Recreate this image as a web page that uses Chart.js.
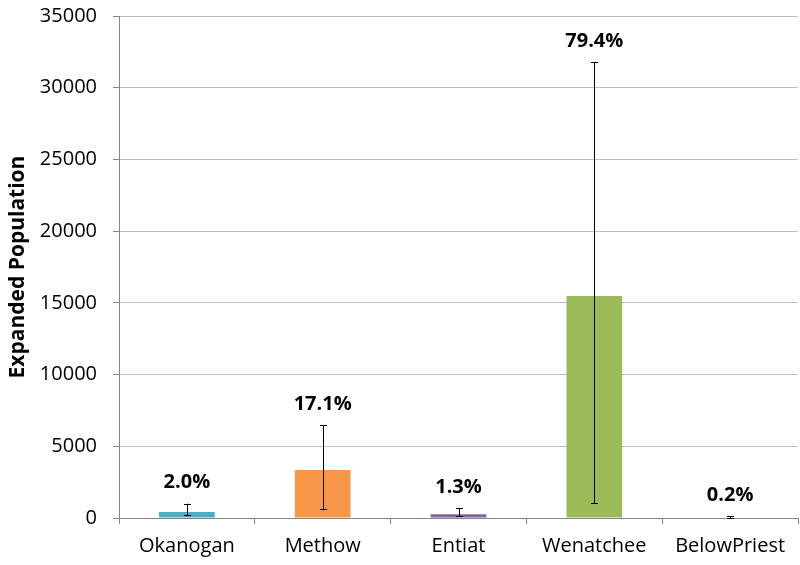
<!DOCTYPE html>
<html>
<head>
<meta charset="utf-8">
<script src="https://cdn.jsdelivr.net/npm/chart.js@4"></script>
<style>
	html, body { margin: 0; padding: 0; background: #fff; }
	canvas { display: block; }
</style>
</head>
<body>
<canvas id="population-chart" width="800" height="565"></canvas>
<script>
const basins = ['Okanogan', 'Methow', 'Entiat', 'Wenatchee', 'BelowPriest'];
const expanded = [420, 3350, 270, 15480, 40];
const lowerBound = [200, 630, 140, 1040, 10];
const upperBound = [1000, 6480, 700, 31800, 110];
const shares = ['2.0%', '17.1%', '1.3%', '79.4%', '0.2%'];
const barColors = ['#4BACC6', '#F79646', '#8064A2', '#9BBB59', '#C0504D'];
const yTicks = [0, 5000, 10000, 15000, 20000, 25000, 30000, 35000];

const fontFamily = '"Open Sans", "Noto Sans", sans-serif';

// whiskers + percent labels on top of each bar
const errorBars = {
	id: 'errorBars',
	afterDatasetsDraw(chart) {
		const ctx = chart.ctx;
		const y = chart.scales.y;
		const meta = chart.getDatasetMeta(0);
		ctx.save();
		ctx.strokeStyle = '#000';
		ctx.lineWidth = 1;
		meta.data.forEach((bar, i) => {
			const x = Math.round(bar.x) + 0.5;
			const top = y.getPixelForValue(upperBound[i]);
			const bottom = y.getPixelForValue(lowerBound[i]);
			ctx.beginPath();
			ctx.moveTo(x, top);
			ctx.lineTo(x, bottom);
			ctx.moveTo(x - 3.5, Math.round(top) + 0.5);
			ctx.lineTo(x + 3.5, Math.round(top) + 0.5);
			ctx.moveTo(x - 3.5, Math.round(bottom) + 0.5);
			ctx.lineTo(x + 3.5, Math.round(bottom) + 0.5);
			ctx.stroke();

			ctx.fillStyle = '#000';
			ctx.font = 'bold 20px ' + fontFamily;
			ctx.textAlign = 'center';
			ctx.textBaseline = 'middle';
			ctx.fillText(shares[i], bar.x, top - 21);
		});
		ctx.restore();
	}
};

new Chart(
	document.getElementById('population-chart'),
	{
		type: 'bar',
		data: {
			labels: basins,
			datasets: [
				{
					label: 'Expanded Population',
					data: expanded,
					backgroundColor: barColors,
					borderWidth: 0,
					categoryPercentage: 1,
					barPercentage: 0.41,
				},
			]
		},
		options: {
			responsive: false,
			animation: false,
			layout: {
				padding: { top: 16, right: 2, bottom: 0, left: 0 },
			},
			plugins: {
				legend: { display: false },
				tooltip: { enabled: false },
			},
			scales: {
				x: {
					grid: {
						display: true,
						drawOnChartArea: false,
						drawTicks: true,
						tickLength: 6,
						color: '#868686',
					},
					border: { color: '#868686' },
					ticks: {
						color: '#000',
						padding: 10,
						font: { family: fontFamily, size: 20 },
					},
					afterFit(scale) {
						scale.height = 47;
					},
				},
				y: {
					min: 0,
					max: 35000,
					afterBuildTicks(scale) {
						scale.ticks = yTicks.map(v => ({ value: v }));
					},
					grid: {
						color: '#BFBFBF',
						tickLength: 6,
						tickColor: '#868686',
					},
					border: { color: '#868686' },
					ticks: {
						color: '#000',
						padding: 16,
						font: { family: fontFamily, size: 20 },
						callback: (v) => String(v),
					},
					title: {
						display: true,
						text: 'Expanded Population',
						color: '#000',
						padding: { top: 5, bottom: 0 },
						font: { family: fontFamily, size: 21, weight: 'bold' },
					},
					afterFit(scale) {
						scale.width = 119;
						scale.paddingTop = 0;
						scale.paddingBottom = 0;
					},
				},
			},
		},
		plugins: [errorBars],
	}
);
</script>
</body>
</html>
